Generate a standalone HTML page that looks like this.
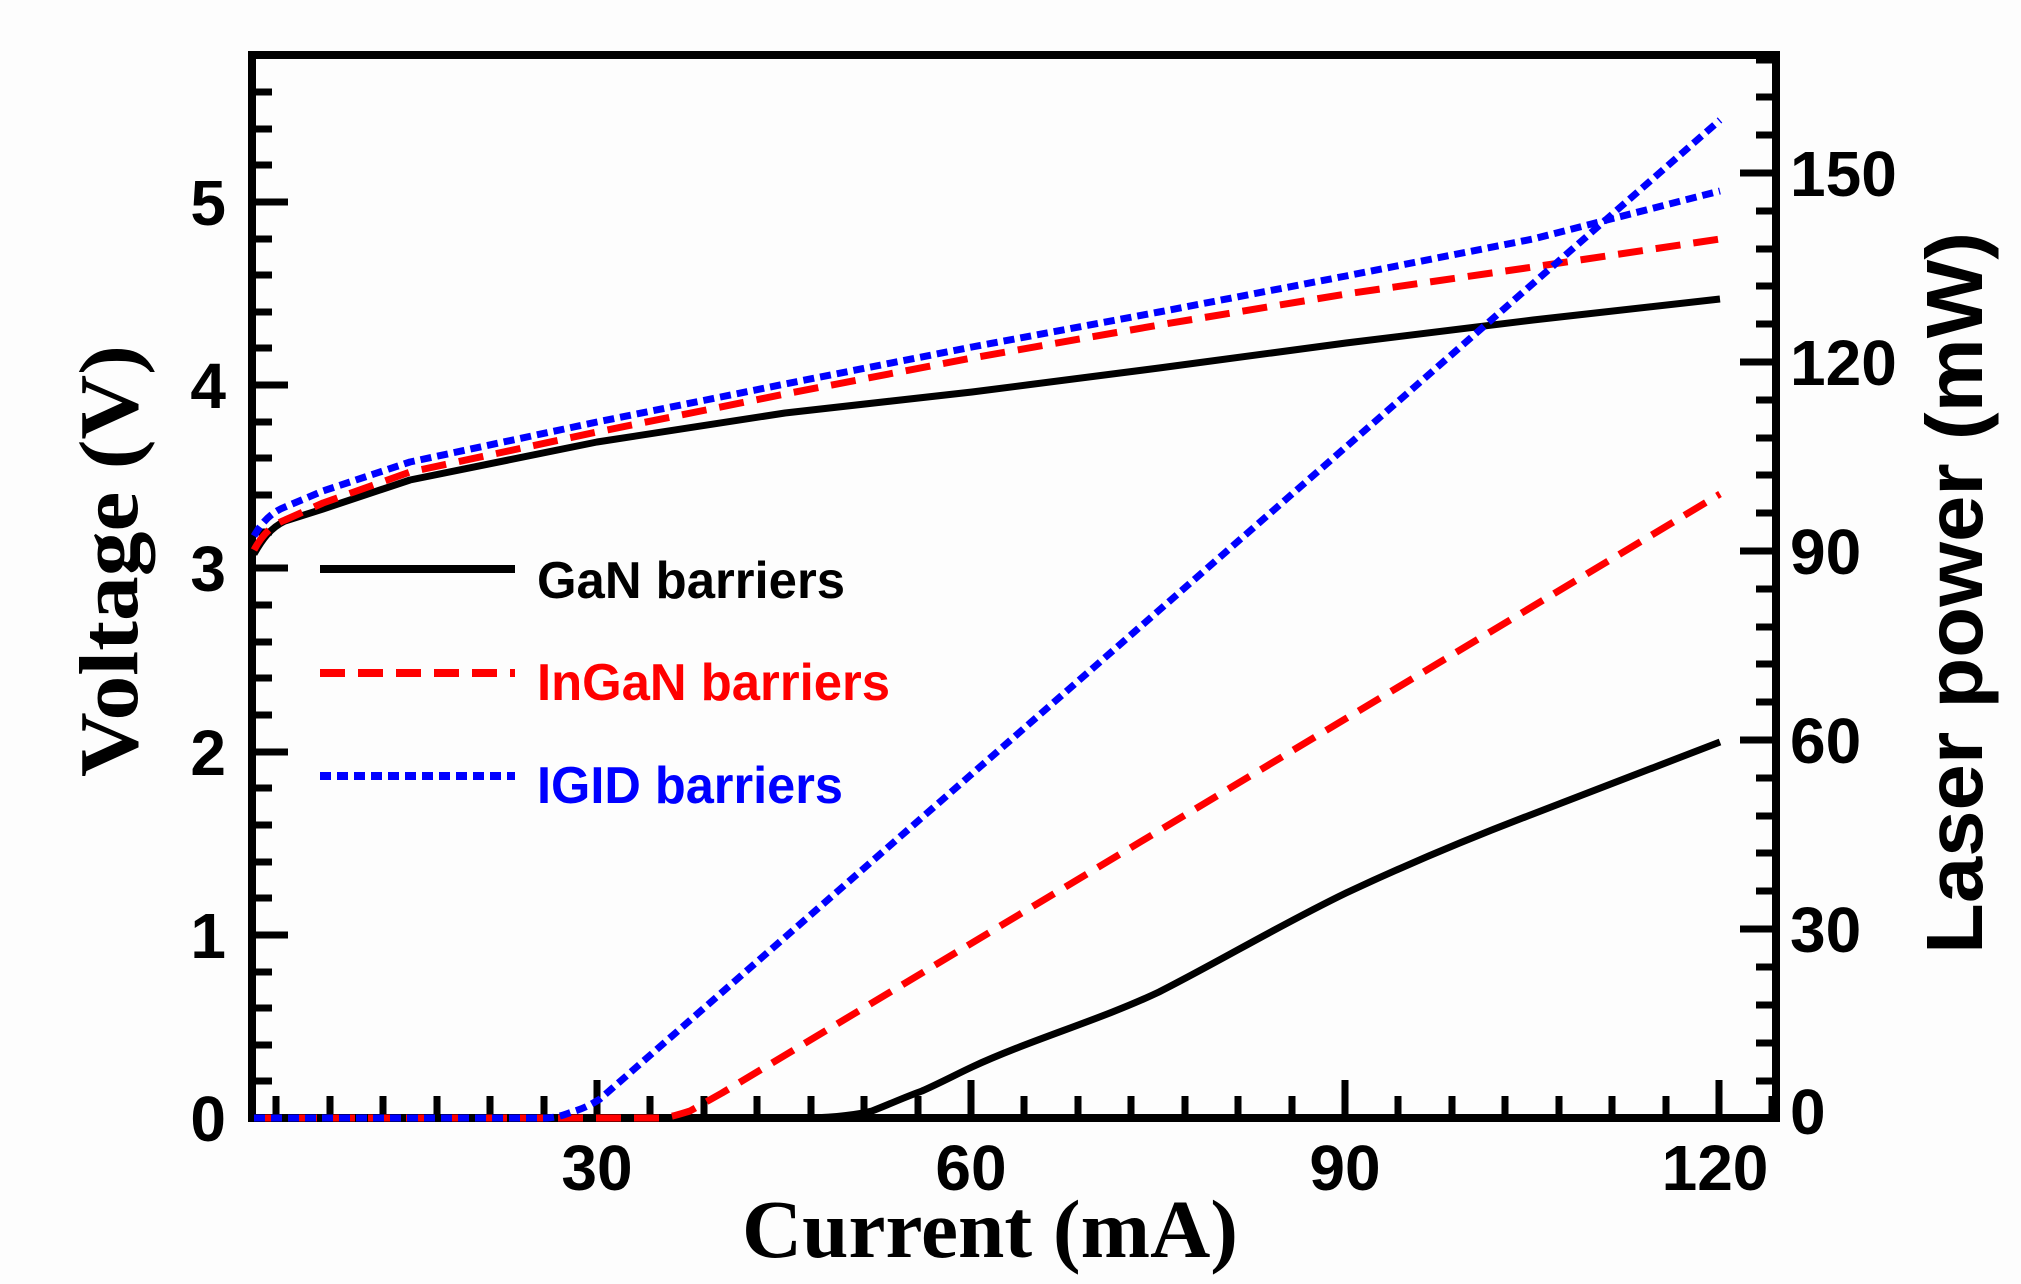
<!DOCTYPE html>
<html><head><meta charset="utf-8"><style>
html,body{margin:0;padding:0;background:#fdfdfd;}
svg{display:block}
.t{font-family:"Liberation Sans",sans-serif;font-weight:bold;font-size:64px;fill:#000}
</style></head><body>
<svg width="2021" height="1284" viewBox="0 0 2021 1284" xmlns="http://www.w3.org/2000/svg">
<rect width="2021" height="1284" fill="#fdfdfd"/>
<!-- ticks -->
<g stroke="#000" stroke-width="7">
<path d="M252 1118h36M252 935h36M252 752h36M252 568h36M252 385h36M252 202h36"/>
<path d="M252 1081h20M252 1045h20M252 1008h20M252 972h20M252 898h20M252 862h20M252 825h20M252 788h20M252 715h20M252 678h20M252 642h20M252 605h20M252 532h20M252 495h20M252 458h20M252 422h20M252 348h20M252 312h20M252 275h20M252 239h20M252 165h20M252 129h20M252 92h20"/>
<path d="M1776 929h-36M1776 740h-36M1776 551h-36M1776 362h-36M1776 173h-36"/>
<path d="M1776 1081h-20M1776 1043h-20M1776 1005h-20M1776 967h-20M1776 891h-20M1776 853h-20M1776 816h-20M1776 778h-20M1776 702h-20M1776 664h-20M1776 627h-20M1776 589h-20M1776 513h-20M1776 475h-20M1776 438h-20M1776 400h-20M1776 324h-20M1776 286h-20M1776 249h-20M1776 211h-20M1776 135h-20M1776 97h-20M1776 60h-20"/>
<path d="M597 1118v-38M971 1118v-38M1345 1118v-38M1719 1118v-38"/>
<path d="M276 1118v-22M330 1118v-22M383 1118v-22M437 1118v-22M490 1118v-22M544 1118v-22M650 1118v-22M704 1118v-22M757 1118v-22M811 1118v-22M864 1118v-22M918 1118v-22M1024 1118v-22M1078 1118v-22M1131 1118v-22M1185 1118v-22M1238 1118v-22M1292 1118v-22M1398 1118v-22M1452 1118v-22M1505 1118v-22M1559 1118v-22M1612 1118v-22M1666 1118v-22M1772 1118v-22"/>
</g>
<!-- frame -->
<path d="M252 55 H1776 V1118 H252 Z" fill="none" stroke="#000" stroke-width="8"/>
<!-- curves -->
<g fill="none" stroke-width="7" stroke-linejoin="round">
<path stroke="#000" d="M254 554 C262 540,270 528,285 521 L323 509 L410 480 L597 442 L785 413 L972 392 L1159 368 L1346 343 L1533 320 L1720 299"/>
<path stroke="#f00" stroke-dasharray="25 13" d="M254 550 C262 535,272 525,285 520 L323 503 L410 472 L597 432 L785 394 L972 358 L1159 325 L1346 294 L1533 267 L1720 239"/>
<path stroke="#00f" stroke-dasharray="11 6" d="M254 536 C262 522,272 512,285 507 L323 491 L410 462 L597 422 L785 384 L972 347 L1159 312 L1346 276 L1533 239 L1720 191"/>
<path stroke="#000" d="M254 1118 L810 1118 C840 1117,860 1114,872 1111 C890 1104,905 1097,922 1091 C940 1083,955 1075,972 1067 C1030 1040,1100 1020,1159 992 C1220 961,1280 925,1346 893 C1410 863,1470 838,1533 814 L1720 742"/>
<path stroke="#f00" stroke-dasharray="25 13" d="M254 1118 L660 1118 C672 1117,680 1114,690 1111 L722 1093 L1720 494"/>
<path stroke="#00f" stroke-dasharray="11 6" d="M254 1118 L547 1118 C560 1117,566 1114,572 1112 C585 1108,592 1104,600 1099 L1720 120"/>
</g>
<!-- legend -->
<g stroke-width="8">
<path d="M320 569H515" stroke="#000"/>
<path d="M320 673H515" stroke="#f00" stroke-dasharray="25 13"/>
<path d="M320 776H515" stroke="#00f" stroke-dasharray="11 6"/>
</g>
<g font-family="Liberation Sans, sans-serif" font-weight="bold" font-size="52">
<text x="537" y="598" fill="#000" textLength="308" lengthAdjust="spacingAndGlyphs">GaN barriers</text>
<text x="537" y="700" fill="#f00" textLength="353" lengthAdjust="spacingAndGlyphs">InGaN barriers</text>
<text x="537" y="803" fill="#00f" textLength="306" lengthAdjust="spacingAndGlyphs">IGID barriers</text>
</g>
<g class="t" text-anchor="end">
<text x="226" y="1141">0</text><text x="226" y="958">1</text><text x="226" y="775">2</text>
<text x="226" y="591">3</text><text x="226" y="408">4</text><text x="226" y="225">5</text>
</g>
<g class="t">
<text x="1790" y="1134">0</text><text x="1790" y="952">30</text><text x="1790" y="763">60</text>
<text x="1790" y="574">90</text><text x="1790" y="385">120</text><text x="1790" y="196">150</text>
</g>
<g class="t" text-anchor="middle">
<text x="597" y="1190">30</text><text x="971" y="1190">60</text><text x="1345" y="1190">90</text><text x="1715" y="1190">120</text>
</g>
<text x="990" y="1257" text-anchor="middle" font-family="Liberation Serif, serif" font-weight="bold" font-size="83" textLength="496" lengthAdjust="spacingAndGlyphs">Current (mA)</text>
<text transform="translate(137,561) rotate(-90)" text-anchor="middle" font-family="Liberation Serif, serif" font-weight="bold" font-size="84" textLength="432" lengthAdjust="spacingAndGlyphs">Voltage (V)</text>
<text transform="translate(1982,593) rotate(-90)" text-anchor="middle" font-family="Liberation Sans, sans-serif" font-weight="bold" font-size="80" textLength="722" lengthAdjust="spacingAndGlyphs">Laser power (mW)</text>
</svg>
</body></html>
